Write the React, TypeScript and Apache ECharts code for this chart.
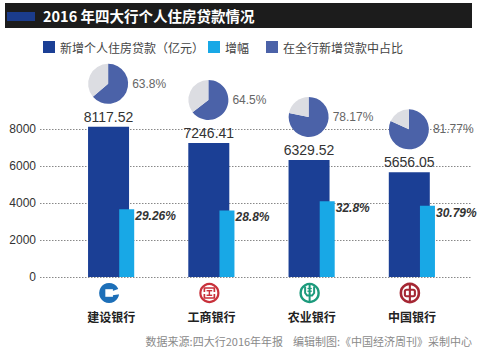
import { useEffect, useRef } from 'react';
import * as echarts from 'echarts';

const categories = ['建设银行', '工商银行', '农业银行', '中国银行'];
const loanValues = [8117.52, 7246.41, 6329.52, 5656.05];
const growthRates = [29.26, 28.8, 32.8, 30.79];
const loanShares = [63.8, 64.5, 78.17, 81.77];
const yTickValues = [0, 2000, 4000, 6000, 8000];

const titleText = '2016 年四大行个人住房贷款情况';
const legendNames = ['新增个人住房贷款（亿元）', '增幅', '在全行新增贷款中占比'];
const sourceText = '数据来源:四大行2016年年报    编辑制图:《中国经济周刊》采制中心';

const DARK = '#1b3f95';
const CYAN = '#18a8e6';
const SLATE = '#4b62a8';
const GREY = '#dcdde2';
const CJK = '"Noto Sans CJK SC", "Noto Sans", sans-serif';
const LATIN = '"Liberation Sans", Arial, sans-serif';

function logo(i: number, cx: number, cy: number): any {
  const lw = (c: string, w: number) => ({ stroke: c, lineWidth: w, fill: 'none' });
  let children: any[] = [];
  if (i === 0) {
    const c = '#1d6fb8';
    children = [
      { type: 'circle', shape: { cx: 0, cy: 0, r: 10 }, style: { fill: c } },
      { type: 'rect', shape: { x: -3.8, y: -3.8, width: 7.6, height: 7.6 }, style: { fill: '#fff' } },
      { type: 'polygon', shape: { points: [[2, -1.5], [12, -5], [12, 1], [2, 2.5]] }, style: { fill: '#fff' } },
    ];
  } else if (i === 1) {
    const c = '#c8313b';
    children = [
      { type: 'circle', shape: { cx: 0, cy: 0, r: 9 }, style: lw(c, 2.2) },
      { type: 'polyline', shape: { points: [[-5, -1], [-5, -5], [5, -5], [5, -1]] }, style: lw(c, 1.7) },
      { type: 'polyline', shape: { points: [[-5, 1], [-5, 5], [5, 5], [5, 1]] }, style: lw(c, 1.7) },
      { type: 'line', shape: { x1: -2.8, y1: -2.3, x2: 2.8, y2: -2.3 }, style: lw(c, 1.4) },
      { type: 'line', shape: { x1: 0, y1: -2.3, x2: 0, y2: 2.3 }, style: lw(c, 1.4) },
      { type: 'line', shape: { x1: -2.8, y1: 2.3, x2: 2.8, y2: 2.3 }, style: lw(c, 1.4) },
    ];
  } else if (i === 2) {
    const c = '#1c9a7c';
    children = [
      { type: 'circle', shape: { cx: 0, cy: 0, r: 9 }, style: lw(c, 2.4) },
      { type: 'line', shape: { x1: 0, y1: -9, x2: 0, y2: 9 }, style: lw(c, 2) },
      { type: 'polyline', shape: { points: [[-4.5, -6.5], [-4.5, 0], [-2.5, 2.5], [2.5, 2.5], [4.5, 0], [4.5, -6.5]] }, style: lw(c, 2) },
      { type: 'line', shape: { x1: -2.2, y1: -4.5, x2: 2.2, y2: -4.5 }, style: lw(c, 1.3) },
      { type: 'line', shape: { x1: -2.2, y1: -1.8, x2: 2.2, y2: -1.8 }, style: lw(c, 1.3) },
    ];
  } else {
    const c = '#a52733';
    children = [
      { type: 'circle', shape: { cx: 0, cy: 0, r: 9 }, style: lw(c, 2.6) },
      { type: 'rect', shape: { x: -5, y: -3.3, width: 10, height: 6.6, r: 1.5 }, style: lw(c, 2.1) },
      { type: 'line', shape: { x1: 0, y1: -9, x2: 0, y2: 9 }, style: lw(c, 2.1) },
    ];
  }
  return { type: 'group', x: cx, y: cy, silent: true, children };
}

export default function App() {
  const ref = useRef<HTMLDivElement>(null);
  useEffect(() => {
    const chart = echarts.init(ref.current!, null, { renderer: 'svg' });
    const yMin = yTickValues[0];
    const yMax = yTickValues[yTickValues.length - 1];
    const yInterval = yTickValues[1] - yTickValues[0];
    const gridTop = 129;
    const gridBottom = 351 - 277;
    chart.setOption({
      animation: false,
      backgroundColor: '#ffffff',
      textStyle: { fontFamily: CJK },
      grid: [
        { left: 40, right: 6, top: gridTop, bottom: gridBottom, containLabel: false },
        { left: 61, right: 16, top: gridTop, bottom: gridBottom, containLabel: false },
      ],
      legend: [
        { data: [{ name: legendNames[0], icon: 'rect' }], left: 43 },
        { data: [{ name: legendNames[1], icon: 'rect' }], left: 208 },
      ].map((l) => ({
        ...l,
        top: 41,
        padding: 0,
        icon: 'rect',
        itemWidth: 12,
        itemHeight: 12,
        selectedMode: false,
        textStyle: { fontSize: 12, color: '#444', fontFamily: CJK },
      })),
      xAxis: [
        { type: 'value', gridIndex: 0, show: false, min: 0, max: 1 },
        {
          type: 'category',
          gridIndex: 1,
          data: categories,
          axisLine: { show: false },
          axisTick: { show: false },
          axisLabel: { margin: 33, fontSize: 12, fontWeight: 'bold', color: '#222', fontFamily: CJK },
        },
      ],
      yAxis: [
        {
          type: 'value',
          gridIndex: 0,
          min: yMin,
          max: yMax,
          interval: yInterval,
          axisLine: { show: false },
          axisTick: { show: false },
          axisLabel: { margin: 4, fontSize: 12, color: '#333', fontFamily: LATIN, formatter: (v: number) => String(v) },
          splitLine: { show: true, lineStyle: { type: [1.5, 1.5], color: '#888', width: 1 } },
        },
        { type: 'value', gridIndex: 1, min: yMin, max: yMax, show: false },
        { type: 'value', gridIndex: 1, min: 0, max: yMax / 125, show: false },
      ],
      series: [
        {
          type: 'bar',
          name: legendNames[0],
          xAxisIndex: 1,
          yAxisIndex: 1,
          data: loanValues,
          barWidth: 41,
          barGap: '-24%',
          clip: false,
          itemStyle: { color: DARK },
          label: {
            show: true,
            position: 'top',
            distance: 3,
            fontSize: 14,
            color: '#333',
            fontFamily: LATIN,
            formatter: (p: any) => String(p.value),
          },
          z: 2,
        },
        {
          type: 'bar',
          name: legendNames[1],
          xAxisIndex: 1,
          yAxisIndex: 2,
          data: growthRates,
          barWidth: 15,
          clip: false,
          itemStyle: { color: CYAN },
          label: {
            show: true,
            position: ['100%', 0],
            offset: [1, 1],
            align: 'left',
            verticalAlign: 'top',
            fontSize: 12,
            fontStyle: 'italic',
            fontWeight: 'bold',
            color: '#333',
            fontFamily: LATIN,
            formatter: (p: any) => `${p.value}%`,
          },
          z: 3,
        },
      ],
    });

    const pies: any[] = [];
    const graphics: any[] = [
      { type: 'rect', shape: { x: 5, y: 3, width: 467, height: 25 }, style: { fill: '#1c1c1c' }, silent: true },
      { type: 'rect', shape: { x: 7, y: 12, width: 28, height: 9 }, style: { fill: '#1b3c8c' }, silent: true },
      {
        type: 'text',
        x: 43,
        y: 15.5,
        style: { text: titleText, fill: '#fff', fontSize: 14.5, fontWeight: 'bold', fontFamily: CJK, verticalAlign: 'middle' },
        silent: true,
      },
      { type: 'rect', shape: { x: 266, y: 41, width: 12, height: 12 }, style: { fill: SLATE }, silent: true },
      {
        type: 'text',
        x: 283,
        y: 47,
        style: { text: legendNames[2], fill: '#444', fontSize: 12, fontFamily: CJK, verticalAlign: 'middle' },
        silent: true,
      },
      {
        type: 'text',
        x: 472,
        y: 341,
        style: { text: sourceText, fill: '#8a8a8a', fontSize: 11, fontFamily: CJK, align: 'right', verticalAlign: 'middle' },
        silent: true,
      },
    ];
    categories.forEach((cat, i) => {
      const top = chart.convertToPixel({ seriesIndex: 0 }, [i, loanValues[i]]) as number[];
      const base = chart.convertToPixel({ seriesIndex: 0 }, [i, 0]) as number[];
      const cx = top[0] - 3;
      const cy = top[1] - 43;
      pies.push({
        type: 'pie',
        name: cat,
        center: [cx, cy],
        radius: 20,
        startAngle: 90,
        silent: true,
        label: { show: false },
        labelLine: { show: false },
        itemStyle: { borderWidth: 0 },
        data: [
          { value: loanShares[i], name: legendNames[2], itemStyle: { color: SLATE } },
          { value: 100 - loanShares[i], name: '其余', itemStyle: { color: GREY } },
        ],
      });
      graphics.push({
        type: 'text',
        x: cx + 24,
        y: cy,
        silent: true,
        style: { text: `${loanShares[i]}%`, fill: '#666', fontSize: 12, fontFamily: LATIN, verticalAlign: 'middle' },
      });
      graphics.push(logo(i, base[0] - 2, 293));
    });

    chart.setOption({
      series: [{}, {}, ...pies],
      graphic: graphics,
    });

    return () => chart.dispose();
  }, []);
  return <div ref={ref} style={{ position: 'fixed', left: 0, top: 0, width: 478, height: 351 }} />;
}
